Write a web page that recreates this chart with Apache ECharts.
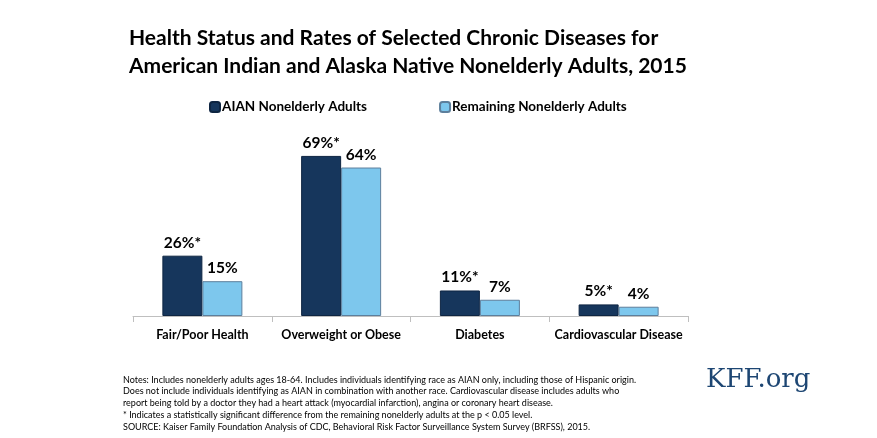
<!DOCTYPE html>
<html><head><meta charset="utf-8">
<script src="https://cdn.jsdelivr.net/npm/echarts@6/dist/echarts.min.js"></script>
<style>html,body{margin:0;padding:0;background:#fff}#c{width:877px;height:438px}</style>
</head><body><div id="c"></div>
<script>
const categories = ['Fair/Poor Health', 'Overweight or Obese', 'Diabetes', 'Cardiovascular Disease'];
const aianValues = [26, 69, 11, 5];
const aianLabels = ['26%*', '69%*', '11%*', '5%*'];
const remainingValues = [15, 64, 7, 4];
const remainingLabels = ['15%', '64%', '7%', '4%'];
const seriesNames = ['AIAN Nonelderly Adults', 'Remaining Nonelderly Adults'];
const titleLines = 'Health Status and Rates of Selected Chronic Diseases for\nAmerican Indian and Alaska Native Nonelderly Adults, 2015';
const notesText = 'Notes: Includes nonelderly adults ages 18-64. Includes individuals identifying race as AIAN only, including those of Hispanic origin.\nDoes not include individuals identifying as AIAN in combination with another race. Cardiovascular disease includes adults who\nreport being told by a doctor they had a heart attack (myocardial infarction), angina or coronary heart disease.\n* Indicates a statistically significant difference from the remaining nonelderly adults at the p < 0.05 level.\nSOURCE: Kaiser Family Foundation Analysis of CDC, Behavioral Risk Factor Surveillance System Survey (BRFSS), 2015.';

const FONT = 'Lato, "Open Sans", sans-serif';
const chart = echarts.init(document.getElementById('c'));
chart.setOption({
  animation: false,
  title: [{
    text: titleLines, left: 124, top: 19,
    textStyle: {fontFamily: FONT, fontSize: 21, fontWeight: 'bold', color: '#000', lineHeight: 28}
  }],
  graphic: [
    {type: 'text', left: 123, top: 374, style: {text: notesText, fontFamily: FONT, fontSize: 9, lineHeight: 11.7, fill: '#000'}},
    {type: 'text', left: 706, top: 367, style: {text: 'KFF.org', fontFamily: '"DejaVu Serif", "Liberation Serif", serif', fontSize: 26, fill: '#1d4673'}}
  ],
  legend: {
    top: 95, left: 204, itemGap: 72, itemWidth: 10, itemHeight: 10,
    data: seriesNames,
    textStyle: {fontFamily: FONT, fontSize: 13.5, fontWeight: 'bold', color: '#000', padding: [0, 0, 0, -3]}
  },
  grid: {left: 133, right: 877 - 688, top: 84, bottom: 438 - 316, containLabel: false},
  xAxis: {
    type: 'category', data: categories,
    axisLine: {lineStyle: {color: '#bfbfbf', width: 1}},
    axisTick: {show: true, length: 6, lineStyle: {color: '#bfbfbf'}},
    axisLabel: {interval: 0, fontFamily: FONT, fontSize: 12.5, fontWeight: 'bold', color: '#000', margin: 12}
  },
  yAxis: {type: 'value', min: 0, max: 100, show: false, splitLine: {show: false}},
  series: [
    {
      name: seriesNames[0], type: 'bar', data: aianValues, barWidth: 40, barGap: '0%',
      itemStyle: {color: '#16365c', borderColor: '#0e2542', borderWidth: 1},
      label: {show: true, position: 'top', distance: 5, formatter: p => aianLabels[p.dataIndex],
        fontFamily: FONT, fontSize: 15.5, fontWeight: 'bold', color: '#000'}
    },
    {
      name: seriesNames[1], type: 'bar', data: remainingValues, barWidth: 40,
      itemStyle: {color: '#7dc7ed', borderColor: '#5d7f9c', borderWidth: 1},
      label: {show: true, position: 'top', distance: 5, formatter: p => remainingLabels[p.dataIndex],
        fontFamily: FONT, fontSize: 15.5, fontWeight: 'bold', color: '#000'}
    }
  ]
});
</script></body></html>
